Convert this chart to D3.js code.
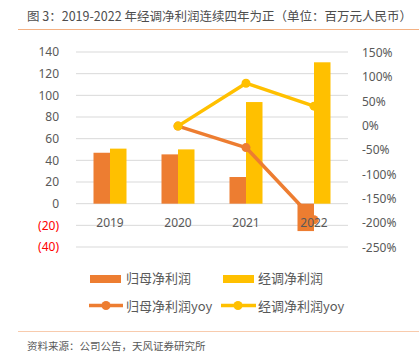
<!DOCTYPE html>
<html><head><meta charset="utf-8">
<script src="https://cdn.jsdelivr.net/npm/d3@7"></script>
<style>
body{margin:0;background:#fff;}
text{font-family:"Noto Sans CJK SC","Noto Sans",sans-serif;}
</style></head>
<body><svg id="c" width="419" height="362"></svg>
<script>
const categories = ["2019","2020","2021","2022"];
const netProfit = [47, 45.5, 24.6, -25.3];          // 归母净利润
const adjProfit = [50.8, 50.1, 93.8, 130.5];        // 经调净利润
const netYoy = [null, -1, -45, -193];               // 归母净利润yoy (%)
const adjYoy = [null, -1, 87, 40];                  // 经调净利润yoy (%)
const leftTicks = [140,120,100,80,60,40,20,0,-20,-40];
const rightTicks = [150,100,50,0,-50,-100,-150,-200,-250];
const seriesNames = ["归母净利润","经调净利润","归母净利润yoy","经调净利润yoy"];
const title = "图 3：2019-2022 年经调净利润连续四年为正（单位：百万元人民币）";
const source = "资料来源：公司公告，天风证券研究所";

const ORANGE="#ED7D31", YELLOW="#FFC000", GRAY="#595959", GRID="#D9D9D9";
const svg = d3.select("#c");
const L=76, R=348, T=52, B=247;

const x0 = d3.scaleBand().domain(categories).range([L,R]).padding(0);
const bw = 16.5;
const x1 = d3.scaleBand().domain(["a","b"]).range([x0.bandwidth()/2-bw, x0.bandwidth()/2+bw]).padding(0);
const yL = d3.scaleLinear().domain([-40,140]).range([B,T]);
const yR = d3.scaleLinear().domain([-250,150]).range([B+0.5,T+0.5]);

// title
svg.append("text").attr("x",27).attr("y",21).attr("font-size",12.5).attr("fill","#4d4d4d").text(title);
svg.append("line").attr("x1",18).attr("x2",419).attr("y1",29.5).attr("y2",29.5).attr("stroke","#F4B183").attr("stroke-width",1.2);

// grid
svg.append("g").selectAll("line").data(leftTicks).join("line")
  .attr("x1",L).attr("x2",R).attr("y1",d=>yL(d)).attr("y2",d=>yL(d))
  .attr("stroke",GRID).attr("stroke-width",1);

// left axis
const gl = svg.append("g").attr("transform",`translate(${L-17},0)`)
  .call(d3.axisLeft(yL).tickValues(leftTicks).tickSize(0).tickPadding(0)
    .tickFormat(d=> d<0 ? `(${-d})` : d));
gl.select(".domain").remove();
gl.selectAll("text").attr("font-size",12).attr("fill",d=>d<0?"#FF0000":GRAY)
  .style("font-family","'Noto Sans',sans-serif");

// right axis
const gr = svg.append("g").attr("transform",`translate(${R+14},0)`)
  .call(d3.axisRight(yR).tickValues(rightTicks).tickSize(0).tickPadding(0)
    .tickFormat(d=>d+"%"));
gr.select(".domain").remove();
gr.selectAll("text").attr("font-size",12).attr("fill",GRAY)
  .style("font-family","'Noto Sans',sans-serif");

function bars(vals,k,col){
  svg.append("g").selectAll("rect").data(categories.map((c,i)=>({c,v:vals[i]}))).join("rect")
    .attr("x",d=>x0(d.c)+x1(k)).attr("width",x1.bandwidth())
    .attr("y",d=>yL(Math.max(0,d.v))).attr("height",d=>Math.abs(yL(d.v)-yL(0))).attr("fill",col);
}
function drawLine(vals,col){
  const pts = categories.map((c,i)=>({c,v:vals[i]})).filter(d=>d.v!==null);
  const line = d3.line().x(d=>x0(d.c)+x0.bandwidth()/2).y(d=>yR(d.v));
  svg.append("path").datum(pts).attr("d",line).attr("fill","none").attr("stroke",col).attr("stroke-width",3.5).attr("stroke-linejoin","round");
  svg.append("g").selectAll("circle").data(pts).join("circle")
    .attr("cx",d=>x0(d.c)+x0.bandwidth()/2).attr("cy",d=>yR(d.v)).attr("r",4.5).attr("fill",col);
}
bars(adjProfit,"b",YELLOW);
drawLine(netYoy,ORANGE);
drawLine(adjYoy,YELLOW);
bars(netProfit,"a",ORANGE);

// x labels
svg.append("g").selectAll("text").data(categories).join("text")
  .attr("x",d=>x0(d)+x0.bandwidth()/2).attr("y",227).attr("text-anchor","middle")
  .attr("font-size",12).attr("fill",GRAY).style("font-family","'Noto Sans',sans-serif").text(d=>d);

// legend
const lg = svg.append("g");
lg.append("rect").attr("x",90).attr("y",275).attr("width",31).attr("height",8).attr("fill",ORANGE);
lg.append("text").attr("x",126).attr("y",283).attr("font-size",13).attr("fill",GRAY).text(seriesNames[0]);
lg.append("rect").attr("x",223).attr("y",275).attr("width",31).attr("height",8).attr("fill",YELLOW);
lg.append("text").attr("x",258).attr("y",283).attr("font-size",13).attr("fill",GRAY).text(seriesNames[1]);
[[89,123,106,ORANGE,126,seriesNames[2]],[221,256,238,YELLOW,258,seriesNames[3]]].forEach(([a,b,m,col,tx,name])=>{
  lg.append("line").attr("x1",a).attr("x2",b).attr("y1",305.5).attr("y2",305.5).attr("stroke",col).attr("stroke-width",3.5);
  lg.append("circle").attr("cx",m).attr("cy",305.5).attr("r",4.5).attr("fill",col);
  lg.append("text").attr("x",tx).attr("y",310.5).attr("font-size",13).attr("fill",GRAY).text(name);
});

// footer
svg.append("line").attr("x1",18).attr("x2",419).attr("y1",331.5).attr("y2",331.5).attr("stroke","#F8CBAD").attr("stroke-width",1.2);
svg.append("text").attr("x",27).attr("y",350).attr("font-size",10.5).attr("fill",GRAY).text(source);
</script></body></html>
